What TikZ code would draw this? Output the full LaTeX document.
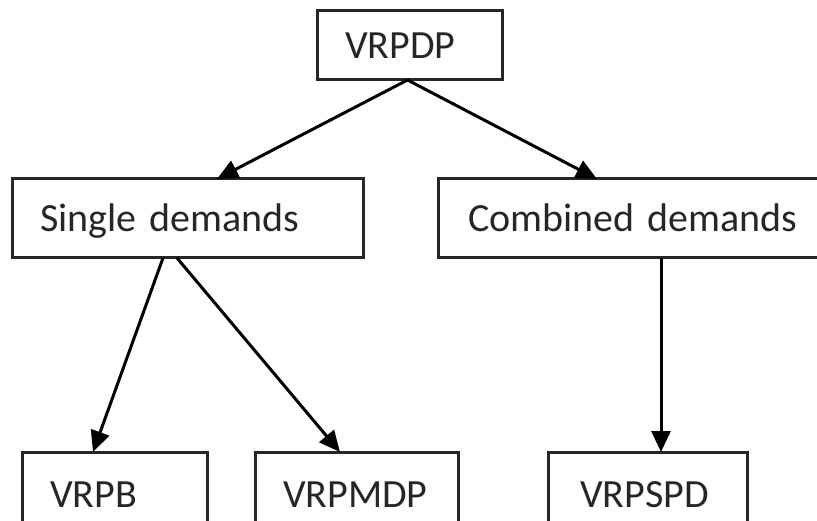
\documentclass[tikz,border=0pt]{standalone}
\usepackage{fontspec}
\setmainfont{Carlito}
\usetikzlibrary{arrows.meta,calc}
\begin{document}
\begin{tikzpicture}[x=1pt,y=-1pt,
  box/.style={draw=black!85, line width=3pt, rectangle, anchor=north west, outer sep=0pt,
    inner xsep=28pt, inner ysep=0pt, align=left, text height=26pt, text depth=0pt,
    font=\fontsize{40}{48}\selectfont, text=black!85},
  arr/.style={line width=3pt, -{Triangle[length=21pt,width=19pt]}}]
\useasboundingbox (0,0) rectangle (817,521);
\clip (0,0) rectangle (817,521);
\node[box, text width=129pt, minimum height=69pt, text depth=-9pt] (vrpdp) at (317,11) {VRPDP};
\node[box, text width=295pt, minimum height=79pt] (single) at (12,179) {Single demands};
\node[box, inner xsep=30pt, text width=340pt, minimum height=79pt] (comb) at (438,179) {Combined demands};
\node[box, text width=129pt, minimum height=84pt] (vrpb) at (22,452) {VRPB};
\node[box, text width=147pt, minimum height=84pt] (vrpmdp) at (255,452) {VRPMDP};
\node[box, inner xsep=32pt, text width=135pt, minimum height=84pt] (vrpspd) at (548,452) {VRPSPD};
\draw[arr] ([xshift=-2pt]vrpdp.south) -- ([xshift=205pt]single.north west);
\draw[arr] ([xshift=-2pt]vrpdp.south) -- ([xshift=159pt]comb.north west);
\draw[arr] ([xshift=151pt]single.south west) -- ([xshift=71pt]vrpb.north west);
\draw[arr] ([xshift=165pt]single.south west) -- ([xshift=85pt]vrpmdp.north west);
\draw[arr] ([xshift=223pt]comb.south west) -- ([xshift=113pt]vrpspd.north west);
\end{tikzpicture}
\end{document}
